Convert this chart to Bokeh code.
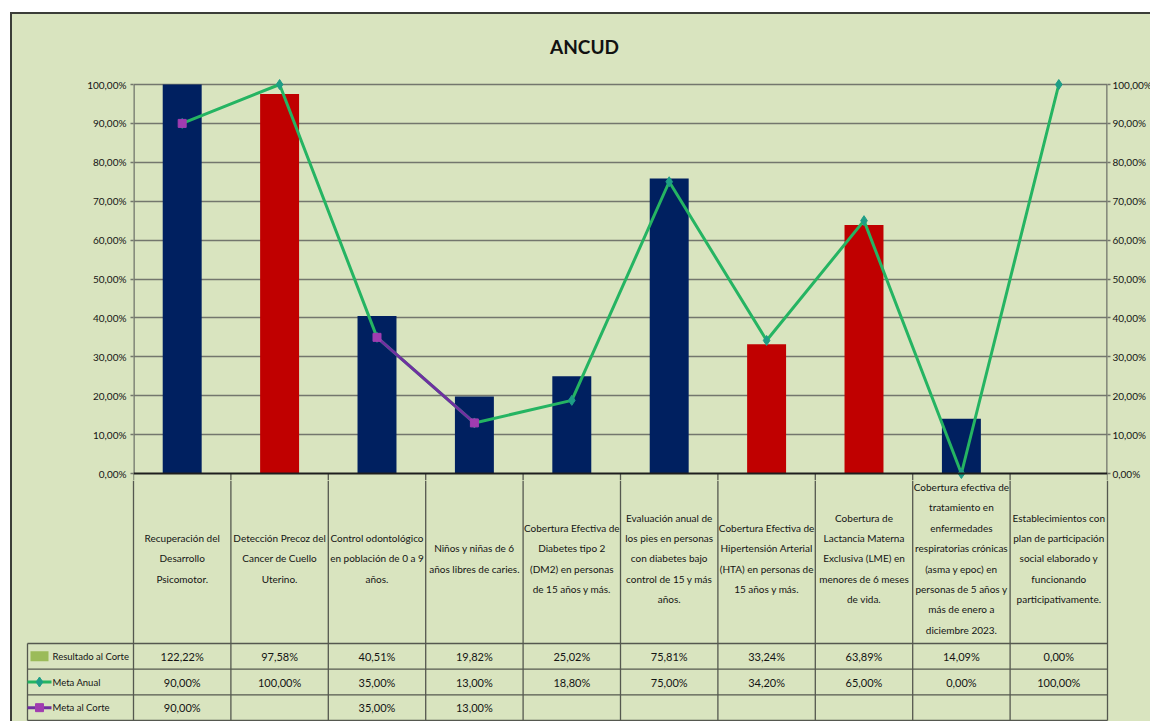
import numpy as np
from bokeh.plotting import figure
from bokeh.models import Range1d, LinearAxis, FixedTicker, CustomJSTickFormatter, Span
from bokeh.layouts import column
from bokeh.embed import file_html
from bokeh.resources import INLINE
from bokeh.core.properties import value

# ---------------------------------------------------------------- data
title_text = "ANCUD"

categories = [
    "Recuperación del\nDesarrollo\nPsicomotor.",
    "Detección Precoz del\nCancer de Cuello\nUterino.",
    "Control odontológico\nen población de 0 a 9\naños.",
    "Niños y niñas de 6\naños libres de caries.",
    "Cobertura Efectiva de\nDiabetes tipo 2\n(DM2) en personas\nde 15 años y más.",
    "Evaluación anual de\nlos pies en personas\ncon diabetes bajo\ncontrol de 15 y más\naños.",
    "Cobertura Efectiva de\nHipertensión Arterial\n(HTA) en personas de\n15 años y más.",
    "Cobertura de\nLactancia Materna\nExclusiva (LME) en\nmenores de 6 meses\nde vida.",
    "Cobertura efectiva de\ntratamiento en\nenfermedades\nrespiratorias crónicas\n(asma y epoc) en\npersonas de 5 años y\nmás de enero a\ndiciembre 2023.",
    "Establecimientos con\nplan de participación\nsocial elaborado y\nfuncionando\nparticipativamente.",
]

resultado_al_corte = [1.2222, 0.9758, 0.4051, 0.1982, 0.2502, 0.7581, 0.3324, 0.6389, 0.1409, 0.0]
meta_anual = [0.90, 1.00, 0.35, 0.13, 0.188, 0.75, 0.342, 0.65, 0.00, 1.00]
meta_al_corte = [0.90, None, 0.35, 0.13, None, None, None, None, None, None]

series_names = ["Resultado al Corte", "Meta Anual", "Meta al Corte"]
y_ticks = [0.0, 0.1, 0.2, 0.3, 0.4, 0.5, 0.6, 0.7, 0.8, 0.9, 1.0]
axis_max = 1.0

# indicators whose bar is drawn in red
red_indicators = {1, 6, 7}

# ---------------------------------------------------------------- styles
BG = "#D9E4BF"
NAVY = "#002060"
RED = "#C00000"
GREEN = "#25B462"
TEAL = "#1E9E86"
PURPLE = "#7030A0"
MAGENTA = "#A03CB0"
SWATCH = "#9BBB59"
GRID = "#73766d"
TABLE_LINE = "#55584f"
FRAME_LINE = "2px solid #3b3d38"
TEXT = "#141414"
FONT = "Lato"

UNIT_PX = 97.4      # width of one category column
Y_PX = 389.0        # height of 0..100 %

n = len(categories)
xs = np.arange(n) + 0.5
bar_colors = [RED if i in red_indicators else NAVY for i in range(n)]
corte_vals = np.array([np.nan if v is None else v for v in meta_al_corte])


def pct(v):
    return "" if v is None else f"{v * 100:.2f}".replace(".", ",") + "%"


# ---------------------------------------------------------------- chart
# the frame reaches up to the top edge so that the title sits inside it
p = figure(frame_width=974, frame_height=466,
           x_range=Range1d(0, n), y_range=Range1d(-7 / Y_PX, axis_max + 70 / Y_PX),
           output_backend="svg", toolbar_location=None,
           x_axis_location=None, y_axis_location="left",
           min_border_left=121, min_border_right=43, min_border_top=0, min_border_bottom=0,
           background_fill_color=None, border_fill_color=BG, outline_line_color=None)

p.xgrid.visible = False
p.ygrid.ticker = FixedTicker(ticks=y_ticks[1:])
p.ygrid.grid_line_color = GRID
p.ygrid.grid_line_width = 1.6

fmt = CustomJSTickFormatter(code="return (tick*100).toFixed(2).replace('.', ',') + '%';")


def style_axis(ax):
    ax.ticker = FixedTicker(ticks=y_ticks)
    ax.formatter = fmt
    ax.bounds = (0, axis_max)
    ax.axis_line_color = None
    ax.major_tick_line_color = GRID
    ax.major_tick_line_width = 1.4
    ax.major_tick_out = 3
    ax.major_tick_in = 0
    ax.minor_tick_line_color = None
    ax.major_label_standoff = 4
    ax.major_label_text_font = FONT
    ax.major_label_text_font_size = "10px"
    ax.major_label_text_color = TEXT


style_axis(p.yaxis[0])
right_axis = LinearAxis()
style_axis(right_axis)
right_axis.major_label_standoff = 2
p.add_layout(right_axis, "right")

# vertical axis lines from 0 to 100 % (they sit on the frame edges, hence the double width)
p.segment(x0=[0, n], x1=[0, n], y0=[0, 0], y1=[axis_max, axis_max],
          line_color=GRID, line_width=2.6)

# bars are clipped at the axis maximum
p.vbar(x=xs, top=np.minimum(resultado_al_corte, axis_max), width=0.4,
       fill_color=bar_colors, line_color=None)

# category axis line and the start of the table columns below it
p.add_layout(Span(location=0, dimension="width", line_color="#1e1e1e", line_width=2))
bounds = np.arange(n + 1)
p.segment(x0=bounds, x1=bounds, y0=-7 / Y_PX, y1=0, line_color=TABLE_LINE, line_width=1.3)

p.line(xs, meta_anual, line_color=GREEN, line_width=3)
p.scatter(xs, meta_anual, marker="diamond", size=10, fill_color=TEAL, line_color=TEAL)

p.line(xs, corte_vals, line_color=PURPLE, line_width=3)
p.scatter(xs, corte_vals, marker="square", size=8, fill_color=MAGENTA, line_color=MAGENTA)

p.text(x=[451 / UNIT_PX], y=[axis_max + 38 / Y_PX], text=[title_text], text_align="center",
       text_baseline="middle", text_font=value(FONT), text_font_size="19px",
       text_font_style="bold", text_color="#111111")

# ---------------------------------------------------------------- data table
ROW = 77 / 3.0
row_edges = [0, ROW, 2 * ROW, 3 * ROW]
row_centers = [2.5 * ROW, 1.5 * ROW, 0.5 * ROW]
header_center = 162
table_left = -106 / UNIT_PX

t = figure(width=1138, height=241,
           x_range=Range1d(-121 / UNIT_PX, n + 43 / UNIT_PX), y_range=Range1d(-1, 240),
           output_backend="svg", toolbar_location=None,
           x_axis_location=None, y_axis_location=None, min_border=0,
           background_fill_color=None, border_fill_color=BG, outline_line_color=None)
t.grid.visible = False

t.segment(x0=[table_left] * 4, x1=[n] * 4, y0=row_edges, y1=row_edges,
          line_color=TABLE_LINE, line_width=1.3)
t.segment(x0=bounds, x1=bounds, y0=0, y1=240, line_color=TABLE_LINE, line_width=1.3)
t.segment(x0=[table_left], x1=[table_left], y0=[0], y1=[3 * ROW],
          line_color=TABLE_LINE, line_width=1.3)

t.text(x=xs, y=header_center, text=categories, text_align="center", text_baseline="middle",
       text_font=value(FONT), text_font_size="10px", text_line_height=1.7, text_color=TEXT)

for series, yc in zip([resultado_al_corte, meta_anual, meta_al_corte], row_centers):
    t.text(x=xs, y=yc, text=[pct(v) for v in series], text_align="center",
           text_baseline="middle", text_font=value(FONT), text_font_size="11px",
           text_color=TEXT)

# series keys in the first table column
key_x0, key_x1 = table_left, -82 / UNIT_PX
key_mid = (key_x0 + key_x1) / 2
t.rect(x=[-94 / UNIT_PX], y=[row_centers[0]], width=18 / UNIT_PX, height=10,
       fill_color=SWATCH, line_color=None)
t.segment(x0=[key_x0], x1=[key_x1], y0=[row_centers[1]], y1=[row_centers[1]],
          line_color=GREEN, line_width=3)
t.scatter([key_mid], [row_centers[1]], marker="diamond", size=10, fill_color=TEAL, line_color=TEAL)
t.segment(x0=[key_x0], x1=[key_x1], y0=[row_centers[2]], y1=[row_centers[2]],
          line_color=PURPLE, line_width=3)
t.scatter([key_mid], [row_centers[2]], marker="square", size=8, fill_color=MAGENTA, line_color=MAGENTA)
t.text(x=[-81 / UNIT_PX] * 3, y=row_centers, text=series_names, text_align="left",
       text_baseline="middle", text_font=value(FONT), text_font_size="9.5px", text_color=TEXT)

# chart and table are separate roots so each keeps its own frame
top_block = column(p, margin=(12, 0, 0, 10),
                   styles={"border-left": FRAME_LINE, "border-top": FRAME_LINE,
                           "background-color": BG})
bottom_block = column(t, margin=(0, 0, 0, 10),
                      styles={"border-left": FRAME_LINE, "background-color": BG})

open("out.html", "w").write(file_html([top_block, bottom_block], INLINE))
